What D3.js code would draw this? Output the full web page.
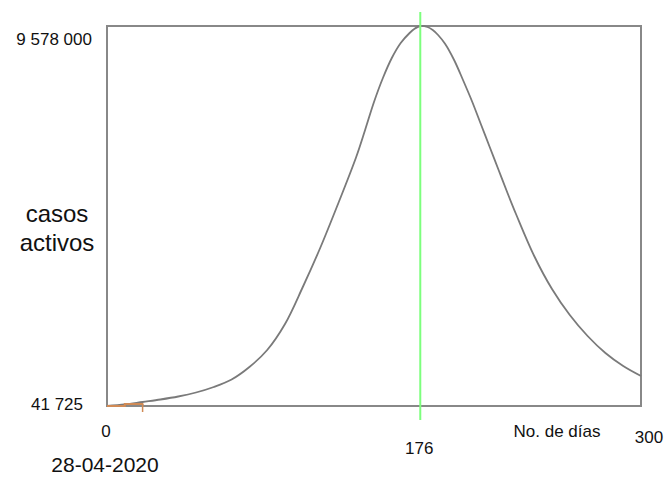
<!DOCTYPE html>
<html>
<head>
<meta charset="utf-8">
<script src="https://cdn.jsdelivr.net/npm/d3@7"></script>
<style>
  body { margin: 0; background: #fff; }
  text { font-family: "Liberation Sans", Arial, sans-serif; fill: #111; }
</style>
</head>
<body>
<svg id="chart" width="670" height="483"></svg>
<script>
// Modelled active cases (day, cases)
var days = [0, 10, 20, 30, 40, 50, 60, 70, 80, 90, 100, 110, 120, 130, 140, 145, 150,
            155, 160, 165, 170, 173, 176, 180, 183, 186, 190, 195, 200, 205, 210, 215,
            220, 225, 230, 240, 250, 260, 270, 280, 290, 300];
var cases = [41725, 79000, 142100, 204800, 280100, 380500, 518500, 706800, 1020400,
             1447100, 2099600, 3028100, 4031900, 5136100, 6290500, 6968100, 7670800,
             8273000, 8775000, 9151400, 9402300, 9515300, 9578000, 9552900, 9477600,
             9352200, 9126300, 8724800, 8222900, 7695900, 7118700, 6541500, 5964300,
             5387100, 4835000, 3806000, 2977900, 2325400, 1798400, 1371800, 1045500, 794600];

// Observed cases so far (orange)
var obsDays = [0, 9, 10, 20];
var obsCases = [41725, 41725, 90000, 92000];

var peakDay = 176;
var yMin = 41725, yMax = 9578000;
var xTicks = [0, 176, 300];

var svg = d3.select("#chart");

var x = d3.scaleLinear().domain([0, 300]).range([107, 641]);
var y = d3.scaleLinear().domain([yMin, yMax]).range([406, 26]);

// frame
svg.append("rect")
  .attr("x", x(0)).attr("y", y(yMax))
  .attr("width", x(300) - x(0)).attr("height", y(yMin) - y(yMax))
  .attr("fill", "none").attr("stroke", "#888").attr("stroke-width", 2);

// model curve
var line = d3.line()
  .x(function (d) { return x(d[0]); })
  .y(function (d) { return y(d[1]); })
  .curve(d3.curveCatmullRom.alpha(0.5));

svg.append("path")
  .datum(d3.zip(days, cases))
  .attr("d", line)
  .attr("fill", "none")
  .attr("stroke", "#7a7a7a")
  .attr("stroke-width", 1.8);

// observed
var obs = d3.zip(obsDays, obsCases);
svg.append("path")
  .datum(obs)
  .attr("d", d3.line().x(function (d) { return x(d[0]); }).y(function (d) { return y(d[1]); }).curve(d3.curveStepAfter))
  .attr("fill", "none")
  .attr("stroke", "#d08a55")
  .attr("stroke-width", 2);
var last = obs[obs.length - 1];
svg.append("line")
  .attr("x1", x(last[0])).attr("x2", x(last[0]))
  .attr("y1", y(last[1]) - 1).attr("y2", y(yMin) + 6)
  .attr("stroke", "#d08a55").attr("stroke-width", 1.5);

// peak marker
svg.append("line")
  .attr("x1", x(peakDay)).attr("x2", x(peakDay))
  .attr("y1", 12).attr("y2", 420)
  .attr("stroke", "#7dff7d").attr("stroke-width", 2);

// y labels
svg.append("text").attr("x", 92).attr("y", y(yMax) + 19)
  .attr("text-anchor", "end").style("font-size", "17px")
  .text(d3.format(",")(yMax).replace(/,/g, " "));
svg.append("text").attr("x", 83).attr("y", y(yMin) + 4)
  .attr("text-anchor", "end").style("font-size", "17px")
  .text(d3.format(",")(yMin).replace(/,/g, " "));

svg.append("text").attr("x", 57).attr("y", 222)
  .attr("text-anchor", "middle").style("font-size", "24px").text("casos");
svg.append("text").attr("x", 57).attr("y", 251)
  .attr("text-anchor", "middle").style("font-size", "24px").text("activos");

// x labels
var xLabY = { 0: 437, 176: 454, 300: 443 };
svg.selectAll(".xt")
  .data(xTicks)
  .enter().append("text")
  .attr("class", "xt")
  .attr("x", function (d) { return d === 300 ? x(d) + 8 : x(d) - 1; })
  .attr("y", function (d) { return xLabY[d]; })
  .attr("text-anchor", "middle")
  .style("font-size", "17px")
  .text(function (d) { return d; });

svg.append("text").attr("x", 557).attr("y", 437)
  .attr("text-anchor", "middle").style("font-size", "17px").text("No. de días");

svg.append("text").attr("x", 105).attr("y", 472)
  .attr("text-anchor", "middle").style("font-size", "21px").text("28-04-2020");
</script>
</body>
</html>
